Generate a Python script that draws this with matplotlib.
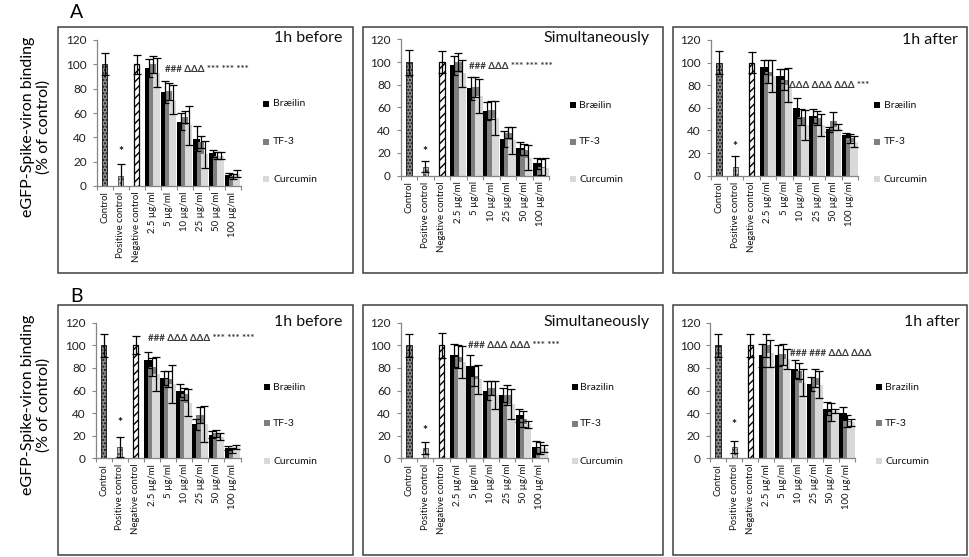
import matplotlib
matplotlib.use("Agg")
import matplotlib.pyplot as plt
from matplotlib.patches import Rectangle
import numpy as np

plt.rcParams['font.family'] = ['Lato', 'DejaVu Sans']
plt.rcParams['hatch.linewidth'] = 1.0

# ---------------- data ----------------
categories = ["Control", "Positive control", "Negative control", "2.5 µg/ml",
              "5 µg/ml", "10 µg/ml", "25 µg/ml", "50 µg/ml", "100 µg/ml"]
series_names = ["Brazilin", "TF-3", "Curcumin"]
y_axis_label = "eGFP-Spike-viron binding\n(% of control)"
y_ticks = [0, 20, 40, 60, 80, 100, 120]

# A - 1h before
ctrl_A1 = [100, 8, 100];  ctrl_err_A1 = [9, 10, 8]
braz_A1 = [97, 77, 53, 39, 27, 9];  braz_err_A1 = [7, 9, 7, 10, 3, 2]
tf3_A1 = [100, 78, 57, 36, 25, 8];  tf3_err_A1 = [7, 7, 5, 5, 3, 2]
cur_A1 = [93, 71, 50, 26, 25, 10];  cur_err_A1 = [12, 12, 16, 11, 3, 3]
# A - Simultaneously
ctrl_A2 = [100, 8, 100];  ctrl_err_A2 = [11, 5, 10]
braz_A2 = [97, 77, 57, 32, 24, 11];  braz_err_A2 = [8, 10, 8, 7, 6, 5]
tf3_A2 = [100, 78, 58, 38, 23, 8];  tf3_err_A2 = [8, 9, 8, 5, 5, 7]
cur_A2 = [90, 70, 51, 31, 16, 7];  cur_err_A2 = [12, 15, 15, 12, 11, 9]
# A - 1h after
ctrl_A3 = [100, 8, 100];  ctrl_err_A3 = [10, 9, 9]
braz_A3 = [96, 88, 60, 53, 41, 36];  braz_err_A3 = [6, 6, 9, 6, 2, 2]
tf3_A3 = [92, 85, 52, 51, 48, 33];  tf3_err_A3 = [10, 9, 7, 6, 8, 4]
cur_A3 = [88, 80, 45, 45, 43, 30];  cur_err_A3 = [14, 15, 13, 10, 3, 5]
# B - 1h before
ctrl_B1 = [100, 10, 100];  ctrl_err_B1 = [10, 9, 8]
braz_B1 = [87, 71, 60, 30, 21, 9];  braz_err_B1 = [7, 6, 6, 5, 3, 2]
tf3_B1 = [81, 70, 57, 38, 22, 7];  tf3_err_B1 = [8, 7, 5, 7, 3, 2]
cur_B1 = [75, 66, 49, 30, 19, 10];  cur_err_B1 = [15, 17, 12, 16, 3, 2]
# B - Simultaneously
ctrl_B2 = [100, 9, 100];  ctrl_err_B2 = [10, 5, 11]
braz_B2 = [91, 82, 60, 56, 38, 10];  braz_err_B2 = [10, 9, 8, 6, 6, 5]
tf3_B2 = [90, 73, 62, 56, 35, 9];  tf3_err_B2 = [10, 9, 6, 9, 7, 5]
cur_B2 = [85, 70, 56, 48, 30, 9];  cur_err_B2 = [14, 13, 12, 13, 3, 3]
# B - 1h after
ctrl_B3 = [100, 10, 100];  ctrl_err_B3 = [10, 5, 10]
braz_B3 = [91, 91, 79, 66, 44, 40];  braz_err_B3 = [10, 9, 8, 6, 6, 5]
tf3_B3 = [100, 92, 77, 71, 41, 33];  tf3_err_B3 = [10, 9, 7, 8, 8, 5]
cur_B3 = [93, 88, 67, 65, 42, 32];  cur_err_B3 = [12, 9, 12, 12, 2, 3]

titles = ["1h before", "Simultaneously", "1h after", "1h before", "Simultaneously", "1h after"]
legend_first = ["Bræilin", "Bræilin", "Bræilin", "Bræilin", "Brazilin", "Brazilin"]
sig_texts = ["### ΔΔΔ *** *** ***", "### ΔΔΔ *** *** ***", "ΔΔΔ ΔΔΔ ΔΔΔ ***",
             "### ΔΔΔ ΔΔΔ *** *** ***", "### ΔΔΔ ΔΔΔ *** ***", "### ### ΔΔΔ ΔΔΔ"]
sig_y = [96, 96, 80, 106, 100, 93]
star_y = [28, 21, 26, 32, 25, 30]

# ---------------- layout ----------------
W, H = 969, 557
fig = plt.figure(figsize=(W / 100, H / 100), dpi=100)
fig.patch.set_facecolor('white')

def fx(x):
    return x / W

def fy(y):
    return 1 - y / H

boxes = [(57.7, 27.5, 352.5, 273), (363.3, 27.5, 663, 273), (673, 27.5, 967, 273),
         (57.7, 305, 352.5, 555), (363.3, 305, 663, 555), (673, 305, 967, 555)]
axboxes = [(96.7, 240.7, 186, 40), (400.7, 549, 175.7, 39.3), (710.7, 858, 175.7, 40),
           (95.7, 240.5, 458.3, 322.7), (400.7, 548, 458.3, 322.7), (710, 855, 458.3, 322.7)]
title_pos = [(342, 38), (650, 38), (958, 40), (342, 322), (650, 322), (960, 322)]
sig_x = [3.75, 3.65, 4.3, 2.75, 3.6, 4.45]
legend_pos = [(263, 273, [104, 142, 179]), (570, 579, [105, 142, 179]), (874, 884, [105, 142, 179]),
              (264, 273, [387, 423, 461]), (572, 580, [387, 424, 461]), (876, 885, [387, 423, 461])]

panels = [
    (ctrl_A1, ctrl_err_A1, braz_A1, braz_err_A1, tf3_A1, tf3_err_A1, cur_A1, cur_err_A1),
    (ctrl_A2, ctrl_err_A2, braz_A2, braz_err_A2, tf3_A2, tf3_err_A2, cur_A2, cur_err_A2),
    (ctrl_A3, ctrl_err_A3, braz_A3, braz_err_A3, tf3_A3, tf3_err_A3, cur_A3, cur_err_A3),
    (ctrl_B1, ctrl_err_B1, braz_B1, braz_err_B1, tf3_B1, tf3_err_B1, cur_B1, cur_err_B1),
    (ctrl_B2, ctrl_err_B2, braz_B2, braz_err_B2, tf3_B2, tf3_err_B2, cur_B2, cur_err_B2),
    (ctrl_B3, ctrl_err_B3, braz_B3, braz_err_B3, tf3_B3, tf3_err_B3, cur_B3, cur_err_B3),
]

series_colors = ['#000000', '#7f7f7f', '#d9d9d9']
axis_grey = '#868686'

for i, data in enumerate(panels):
    ctrl, ctrl_e, b, be, t, te, c, ce = data
    bx0, by0, bx1, by1 = boxes[i]
    fig.add_artist(Rectangle((fx(bx0), fy(by1)), (bx1 - bx0) / W, (by1 - by0) / H,
                             transform=fig.transFigure, fill=False,
                             edgecolor='#404040', lw=1.1))
    xl, xr, y0, y120 = axboxes[i]
    ax = fig.add_axes([fx(xl), fy(y0), (xr - xl) / W, (y0 - y120) / H])
    ax.set_xlim(-0.5, 8.5)
    ax.set_ylim(0, 120)
    ax.patch.set_alpha(0)
    for s in ['top', 'right']:
        ax.spines[s].set_visible(False)
    for s in ['left', 'bottom']:
        ax.spines[s].set_color(axis_grey)
        ax.spines[s].set_linewidth(0.9)

    # control bars
    cw = 0.32
    ax.bar(0, ctrl[0], width=cw, color='#8c8c8c', edgecolor='#111111', hatch='.....', lw=0.6, zorder=2)
    ax.bar(1, ctrl[1], width=cw, color='#c4c4c4', edgecolor='#444444', hatch='....', lw=0.6, zorder=2)
    ax.bar(2, ctrl[2], width=cw, color='white', edgecolor='#000000', hatch='////', lw=0.9, zorder=2)
    ax.errorbar([0, 1, 2], ctrl, yerr=ctrl_e, fmt='none', ecolor='black',
                elinewidth=0.9, capsize=2.6, capthick=0.9, zorder=6)

    # concentration bars
    xs = np.arange(3, 9)
    bw = 0.47
    offs = [-0.25, 0.0, 0.25]
    for k, (vals, errs) in enumerate([(b, be), (t, te), (c, ce)]):
        ax.bar(xs + offs[k], vals, width=bw, color=series_colors[k], edgecolor='none', zorder=2 + k * 0.1)
    for k, (vals, errs) in enumerate([(b, be), (t, te), (c, ce)]):
        ax.errorbar(xs + offs[k], vals, yerr=errs, fmt='none', ecolor='black',
                    elinewidth=0.9, capsize=2.6, capthick=0.9, zorder=6)

    # ticks
    ax.set_yticks(y_ticks)
    ax.set_yticklabels([str(v) for v in y_ticks])
    ax.tick_params(axis='y', length=3, width=0.8, direction='out', color=axis_grey,
                   labelsize=8.5, pad=4, labelcolor='#1e1e1e')
    ax.set_xticks(range(len(categories)))
    ax.set_xticklabels(categories, rotation=90, fontsize=6.9, color='#111111')
    ax.tick_params(axis='x', which='major', length=0, pad=4)
    ax.set_xticks(np.arange(-0.5, 9.0, 1.0), minor=True)
    ax.tick_params(axis='x', which='minor', length=3, width=0.8, direction='out', color=axis_grey)

    # annotations
    ax.text(1, star_y[i], '*', ha='center', va='center', fontsize=8.5, fontweight='bold',
            color='#111111')
    ax.text(sig_x[i], sig_y[i], sig_texts[i], ha='left', va='center', fontsize=7,
            fontweight='bold', color='#3a3a3a', clip_on=False)

    # title
    tx, ty = title_pos[i]
    fig.text(fx(tx), fy(ty), titles[i], ha='right', va='center', fontsize=11.5, color='#111111')

    # legend
    mx, txx, ys = legend_pos[i]
    names = [legend_first[i], series_names[1], series_names[2]]
    for k in range(3):
        fig.add_artist(Rectangle((fx(mx), fy(ys[k] + 2.7)), 6 / W, 6 / H,
                                 transform=fig.transFigure, facecolor=series_colors[k],
                                 edgecolor='none'))
        fig.text(fx(txx), fy(ys[k]), names[k], ha='left', va='center', fontsize=7.5,
                 color='#111111')

# row labels and y-axis titles
fig.text(fx(77), fy(12), "A", ha='center', va='center', fontsize=14)
fig.text(fx(77), fy(296), "B", ha='center', va='center', fontsize=14)
for yc in [127, 405]:
    fig.text(fx(36), fy(yc), y_axis_label, rotation=90, ha='center', va='center',
             fontsize=11.5, linespacing=1.1, multialignment='center')

fig.savefig("out.png", dpi=100, facecolor='white')
